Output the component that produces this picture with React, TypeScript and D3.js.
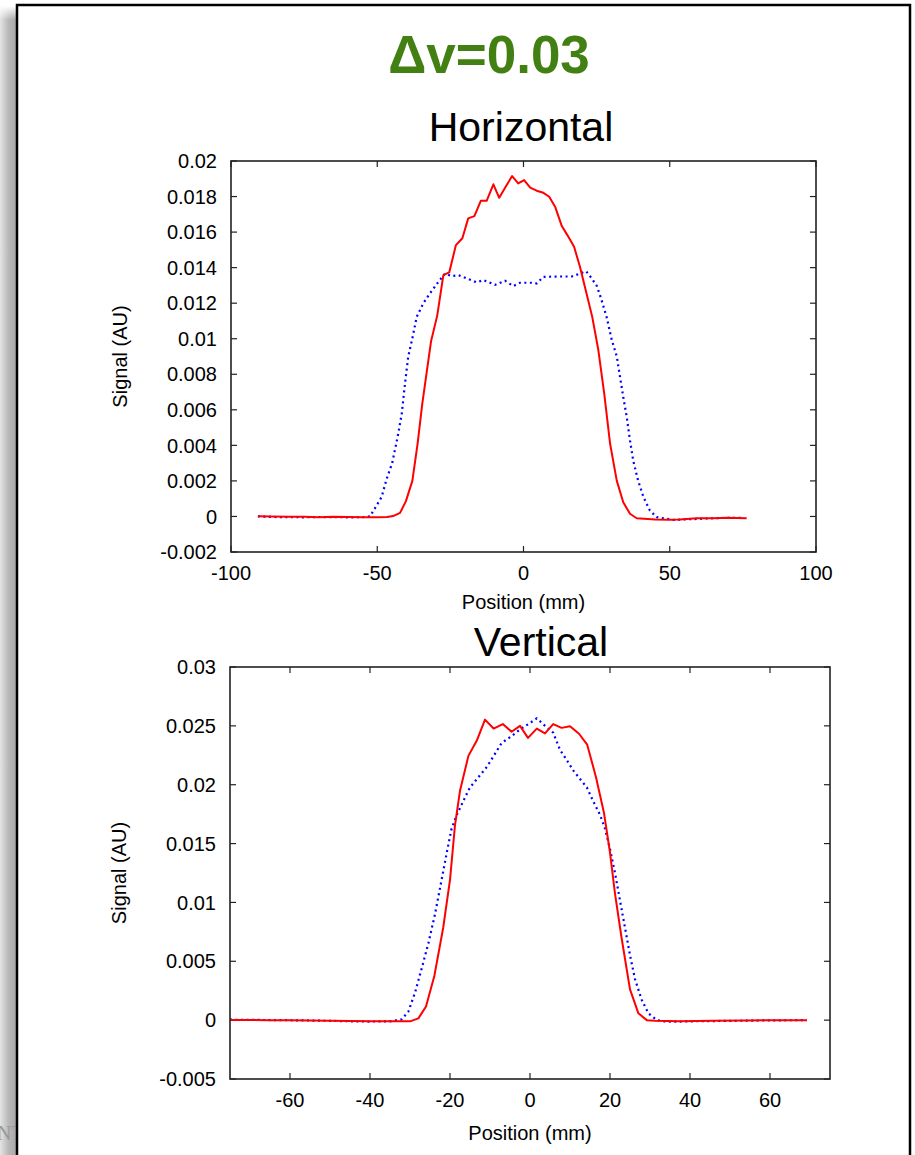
import React from 'react';
import * as d3 from 'd3';

// position (mm), signal (AU) pairs
const horizRed: [number, number][] = [
  [-90.8, 0.00001], [-86, 0], [-80, -0.00002], [-75, -0.00001], [-70, -0.00004], [-65, -0.00002],
  [-60, -0.00003], [-55, -0.00004], [-50, -0.00004], [-46.6, -0.00003], [-44.6, 0.00002],
  [-42.2, 0.0002], [-40.2, 0.00086], [-38, 0.002], [-36.2, 0.0041], [-34.6, 0.00635],
  [-31.6, 0.00986], [-29.5, 0.0113], [-27.4, 0.01358], [-25.4, 0.01373], [-23.1, 0.01527],
  [-20.9, 0.01565], [-18.9, 0.01677], [-16.8, 0.0169], [-14.6, 0.01776], [-12.6, 0.01776],
  [-10.3, 0.01869], [-8.3, 0.01793], [-6.1, 0.01855], [-3.9, 0.01915], [-1.8, 0.01874],
  [0.2, 0.01893], [2.3, 0.0185], [4.5, 0.01833], [6.8, 0.01821], [8.8, 0.01799],
  [10.8, 0.01743], [13.1, 0.01634], [15, 0.01583], [17.3, 0.01517], [19.3, 0.01405],
  [21.4, 0.01264], [23.5, 0.01123], [25.6, 0.00935], [27.6, 0.00691], [29.6, 0.0041],
  [31.9, 0.002], [34.1, 0.0008], [36.4, 0.00015], [38.7, -0.0001], [45, -0.00017],
  [50, -0.00018], [53.5, -0.00017], [59.2, -0.0001], [64.8, -0.0001], [69.5, -0.00007], [76.3, -0.0001],
];

const horizBlue: [number, number][] = [
  [-90.8, 0.00001], [-86, -0.00003], [-80, -0.00004], [-75, -0.00005], [-70, -0.00003],
  [-65, -0.00004], [-60, -0.00005], [-55, -0.00004], [-52.5, 0], [-50.2, 0.00062],
  [-48.5, 0.0011], [-46.8, 0.0021], [-44.9, 0.003], [-43, 0.0045], [-41.6, 0.0058],
  [-40.5, 0.0075], [-39.4, 0.009], [-37.9, 0.0101], [-36.5, 0.01123], [-34.3, 0.01198],
  [-32, 0.01255], [-29.1, 0.0132], [-26.8, 0.01367], [-24.5, 0.01352], [-22.3, 0.01358],
  [-19.4, 0.01339], [-16, 0.01317], [-13.7, 0.0133], [-9.7, 0.01303], [-6.3, 0.01326],
  [-3.5, 0.01296], [-1.2, 0.01315], [3.4, 0.01315], [4.5, 0.01311], [6.8, 0.01348],
  [11.4, 0.0135], [16.5, 0.0135], [19.3, 0.01367], [21.4, 0.0138], [23.3, 0.0134],
  [25.1, 0.01296], [26.7, 0.01217], [28.4, 0.01123], [30.2, 0.00992], [31.9, 0.009],
  [33, 0.00785], [34.1, 0.00672], [35.3, 0.0056], [36.4, 0.00428], [37.5, 0.00315],
  [39.2, 0.002], [41, 0.0011], [43.2, 0.00034], [45.5, -0.00004], [51.2, -0.00019],
  [58, -0.00015], [64.9, -0.0001], [70, -0.00008], [75.1, -0.00007],
];

const vertRed: [number, number][] = [
  [-75, 0.00002], [-70, 0.00001], [-65, 0], [-60, -0.00001], [-55, -0.00002], [-50, -0.00005],
  [-45, -0.00007], [-40, -0.00009], [-35, -0.0001], [-30, -0.0001], [-27.9, 0.00015],
  [-26, 0.00116], [-23.9, 0.00378], [-21.7, 0.00785], [-20, 0.01192], [-18.75, 0.01657],
  [-17.5, 0.01948], [-15.4, 0.02245], [-13.3, 0.02375], [-11.25, 0.02553], [-9.1, 0.02477],
  [-6.8, 0.02515], [-4.6, 0.0245], [-2.5, 0.025], [-0.5, 0.02398], [1.7, 0.02477],
  [3.75, 0.02436], [5.8, 0.02515], [7.9, 0.02483], [10, 0.02497], [12.25, 0.02433],
  [14.3, 0.0234], [16.5, 0.02064], [18.5, 0.01759], [20, 0.01424], [21.25, 0.01075],
  [22.9, 0.00698], [25, 0.00262], [27.1, 0.00058], [29.2, 0], [31.25, -0.00006],
  [37.5, -0.00009], [45.8, -0.00006], [54.2, -0.00003], [60.8, 0], [69.2, 0],
];

const vertBlue: [number, number][] = [
  [-75, 0.00004], [-70, 0.00002], [-65, 0.00001], [-60, -0.00001], [-55, -0.00003],
  [-50, -0.00006], [-45, -0.0001], [-40, -0.00012], [-35, -0.0001], [-32.1, 0.00006],
  [-30.4, 0.00073], [-28.75, 0.00233], [-27.1, 0.00436], [-25.4, 0.00654], [-23.75, 0.009],
  [-22.1, 0.01192], [-20.8, 0.01424], [-19.6, 0.01628], [-18.3, 0.01744], [-16.7, 0.0186],
  [-15, 0.01977], [-12.9, 0.02064], [-10.8, 0.02151], [-9.2, 0.02238], [-7.1, 0.02354],
  [-4.6, 0.02413], [-2.5, 0.0247], [-0.4, 0.02515], [1.7, 0.02564], [3.75, 0.025],
  [5.8, 0.02442], [7.5, 0.02296], [9.2, 0.02209], [10.8, 0.02122], [12.5, 0.02049],
  [14.2, 0.01977], [15.8, 0.0186], [17.5, 0.01744], [18.75, 0.01628], [20, 0.01453],
  [21.25, 0.0125], [22.5, 0.01017], [23.75, 0.00785], [25, 0.00552], [26.25, 0.00349],
  [27.9, 0.00174], [29.6, 0.00058], [31.7, 0], [34.2, -0.00014], [40, -0.0001],
  [50, -0.00006], [60, -0.00002], [69.2, 0],
];

const horizXTicks = [-100, -50, 0, 50, 100];
const horizYTicks = [-0.002, 0, 0.002, 0.004, 0.006, 0.008, 0.01, 0.012, 0.014, 0.016, 0.018, 0.02];
const vertXTicks = [-60, -40, -20, 0, 20, 40, 60];
const vertYTicks = [-0.005, 0, 0.005, 0.01, 0.015, 0.02, 0.025, 0.03];

const FONT = '"Liberation Sans", Arial, Helvetica, sans-serif';

type PanelProps = {
  id: string;
  title: string;
  titleX: number;
  titleY: number;
  box: { left: number; top: number; right: number; bottom: number };
  xDomain: [number, number];
  yDomain: [number, number];
  xTicks: number[];
  yTicks: number[];
  red: [number, number][];
  blue: [number, number][];
  xLabelY: number;
};

function Panel(p: PanelProps) {
  const x = d3.scaleLinear().domain(p.xDomain).range([p.box.left, p.box.right]);
  const y = d3.scaleLinear().domain(p.yDomain).range([p.box.bottom, p.box.top]);
  const line = d3.line<[number, number]>().x((d) => x(d[0])).y((d) => y(d[1]));
  const tl = 6;
  const fmt = (v: number) => String(+v.toFixed(4));
  const midX = (p.box.left + p.box.right) / 2;
  const midY = (p.box.top + p.box.bottom) / 2;

  return (
    <g>
      <defs>
        <clipPath id={p.id}>
          <rect x={p.box.left} y={p.box.top} width={p.box.right - p.box.left} height={p.box.bottom - p.box.top} />
        </clipPath>
      </defs>
      <text x={p.titleX} y={p.titleY} textAnchor="middle" fontSize={41} fontFamily={FONT} fill="#000">
        {p.title}
      </text>

      {/* ticks, mirrored on all four sides, pointing inward */}
      <g stroke="#222" strokeWidth={1.2}>
        {p.yTicks.map((t) => (
          <g key={'y' + t}>
            <line x1={p.box.left} x2={p.box.left + tl} y1={y(t)} y2={y(t)} />
            <line x1={p.box.right} x2={p.box.right - tl} y1={y(t)} y2={y(t)} />
          </g>
        ))}
        {p.xTicks.map((t) => (
          <g key={'x' + t}>
            <line x1={x(t)} x2={x(t)} y1={p.box.bottom} y2={p.box.bottom - tl} />
            <line x1={x(t)} x2={x(t)} y1={p.box.top} y2={p.box.top + tl} />
          </g>
        ))}
      </g>

      <g fontFamily={FONT} fontSize={20} fill="#000">
        {p.yTicks.map((t) => (
          <text key={'yl' + t} x={p.box.left - 14} y={y(t)} dy="0.36em" textAnchor="end">
            {fmt(t)}
          </text>
        ))}
        {p.xTicks.map((t) => (
          <text key={'xl' + t} x={x(t)} y={p.box.bottom + 28} textAnchor="middle">
            {fmt(t)}
          </text>
        ))}
        <text x={midX} y={p.xLabelY} textAnchor="middle">Position (mm)</text>
        <text transform={`translate(${p.box.left - 104},${midY}) rotate(-90)`} textAnchor="middle">
          Signal (AU)
        </text>
      </g>

      <g clipPath={`url(#${p.id})`} fill="none">
        <path d={line(p.blue) ?? ''} stroke="#0000ff" strokeWidth={2.2} strokeDasharray="2,3.5" />
        <path d={line(p.red) ?? ''} stroke="#ff0000" strokeWidth={2} strokeLinejoin="round" />
      </g>

      <rect
        x={p.box.left}
        y={p.box.top}
        width={p.box.right - p.box.left}
        height={p.box.bottom - p.box.top}
        fill="none"
        stroke="#222"
        strokeWidth={1.6}
      />
    </g>
  );
}

export default function App() {
  return (
    <svg width={915} height={1155} style={{ position: 'absolute', left: 0, top: 0, background: '#fff' }}>
      <defs>
        <linearGradient id="shadow" x1="0" x2="1" y1="0" y2="0">
          <stop offset="0" stopColor="#e4e4e4" />
          <stop offset="0.5" stopColor="#b8b8b8" />
          <stop offset="1" stopColor="#a6a6a6" />
        </linearGradient>
        <linearGradient id="shadowTop" x1="0" x2="0" y1="0" y2="1">
          <stop offset="0" stopColor="#fff" stopOpacity={1} />
          <stop offset="1" stopColor="#fff" stopOpacity={0} />
        </linearGradient>
      </defs>

      {/* slide behind, peeking out at the left */}
      <rect x={0} y={6} width={17} height={1149} fill="url(#shadow)" />
      <rect x={0} y={6} width={17} height={14} fill="url(#shadowTop)" />
      <text x={-3} y={1140} fontFamily="'Liberation Serif', serif" fontSize={20} fill="#9a9a9a">NT</text>

      {/* slide frame */}
      <rect x={17} y={5} width={893} height={1160} fill="#fff" stroke="#000" strokeWidth={2.5} />

      <text x={489} y={73} textAnchor="middle" fontFamily={FONT} fontWeight="bold" fontSize={53} fill="#428014">
        Δv=0.03
      </text>

      <Panel
        id="clipH"
        title="Horizontal"
        titleX={521}
        titleY={141}
        box={{ left: 231, top: 161, right: 816, bottom: 552 }}
        xDomain={[-100, 100]}
        yDomain={[-0.002, 0.02]}
        xTicks={horizXTicks}
        yTicks={horizYTicks}
        red={horizRed}
        blue={horizBlue}
        xLabelY={609}
      />
      <Panel
        id="clipV"
        title="Vertical"
        titleX={541}
        titleY={656}
        box={{ left: 230, top: 667, right: 830, bottom: 1079 }}
        xDomain={[-75, 75]}
        yDomain={[-0.005, 0.03]}
        xTicks={vertXTicks}
        yTicks={vertYTicks}
        red={vertRed}
        blue={vertBlue}
        xLabelY={1140}
      />
    </svg>
  );
}
